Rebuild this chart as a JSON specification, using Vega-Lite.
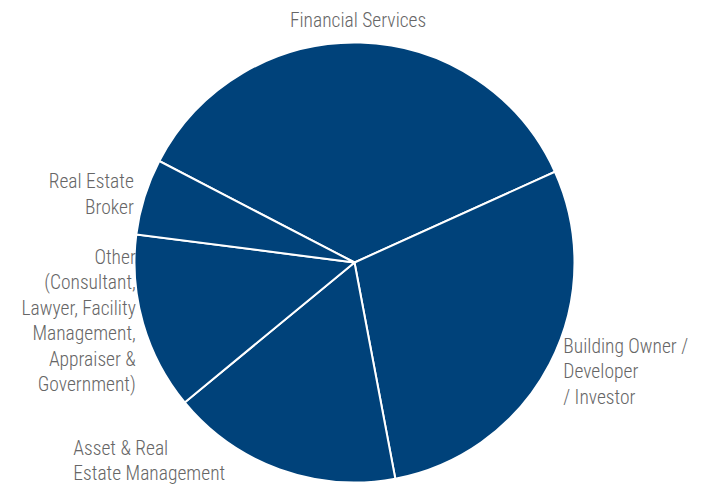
{
  "$schema": "https://vega.github.io/schema/vega-lite/v6.json",
  "width": 709,
  "height": 445,
  "autosize": {"type": "none"},
  "padding": {"top": 40, "left": 0, "right": 0, "bottom": 0},
  "background": "white",
  "view": {"stroke": null},
  "data": {
    "values": [
      {"sector": "Financial Services", "share": 35.6, "order": 1, "label": "Financial Services"},
      {"sector": "Building Owner / Developer / Investor", "share": 28.8, "order": 2, "label": "Building Owner /\nDeveloper\n/ Investor"},
      {"sector": "Asset & Real Estate Management", "share": 17.0, "order": 3, "label": "Asset & Real\nEstate Management"},
      {"sector": "Other", "share": 13.0, "order": 4, "label": "Other\n(Consultant,\nLawyer, Facility\nManagement,\nAppraiser &\nGovernment)"},
      {"sector": "Real Estate Broker", "share": 5.6, "order": 5, "label": "Real Estate\nBroker"}
    ]
  },
  "encoding": {
    "theta": {"field": "share", "type": "quantitative", "stack": true, "scale": {"range": [5.192, 11.475]}},
    "order": {"field": "order", "type": "quantitative"}
  },
  "layer": [
    {
      "mark": {"type": "arc", "outerRadius": 220, "fill": "#00427a", "stroke": "white", "strokeWidth": 2}
    },
    {
      "mark": {"type": "text", "radius": 242, "align": "center", "baseline": "middle", "dx": -3, "font": "Roboto Condensed, Liberation Sans Narrow, sans-serif", "fontWeight": 300, "fontSize": 19.5, "lineHeight": 25.5, "lineBreak": "\n", "fill": "#666666"},
      "encoding": {"text": {"condition": {"test": "datum.order == 1", "field": "label"}, "value": ""}}
    },
    {
      "mark": {"type": "text", "radius": 237.6, "align": "left", "baseline": "middle", "dx": -2, "dy": -25.5, "font": "Roboto Condensed, Liberation Sans Narrow, sans-serif", "fontWeight": 300, "fontSize": 19.5, "lineHeight": 25.5, "lineBreak": "\n", "fill": "#666666"},
      "encoding": {"text": {"condition": {"test": "datum.order == 2", "field": "label"}, "value": ""}}
    },
    {
      "mark": {"type": "text", "radius": 212, "align": "left", "baseline": "middle", "dx": -209, "dy": -13, "font": "Roboto Condensed, Liberation Sans Narrow, sans-serif", "fontWeight": 300, "fontSize": 19.5, "lineHeight": 25.5, "lineBreak": "\n", "fill": "#666666"},
      "encoding": {"text": {"condition": {"test": "datum.order == 3", "field": "label"}, "value": ""}}
    },
    {
      "mark": {"type": "text", "radius": 212, "align": "right", "baseline": "middle", "dx": -15, "dy": -63.5, "font": "Roboto Condensed, Liberation Sans Narrow, sans-serif", "fontWeight": 300, "fontSize": 19.5, "lineHeight": 25.5, "lineBreak": "\n", "fill": "#666666"},
      "encoding": {"text": {"condition": {"test": "datum.order == 4", "field": "label"}, "value": ""}}
    },
    {
      "mark": {"type": "text", "radius": 227, "align": "right", "baseline": "middle", "dx": -4, "dy": -12.5, "font": "Roboto Condensed, Liberation Sans Narrow, sans-serif", "fontWeight": 300, "fontSize": 19.5, "lineHeight": 25.5, "lineBreak": "\n", "fill": "#666666"},
      "encoding": {"text": {"condition": {"test": "datum.order == 5", "field": "label"}, "value": ""}}
    }
  ]
}
